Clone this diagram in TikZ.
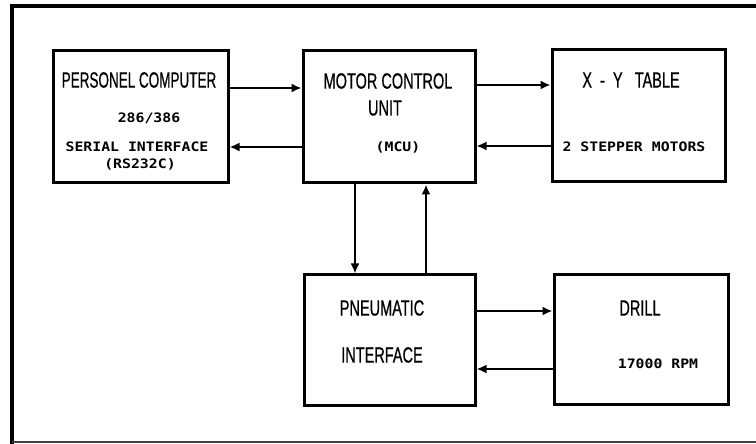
\documentclass[tikz,border=0pt]{standalone}
\usepackage{fontspec}
\newfontfamily\plotfont[FakeStretch=0.66, FakeBold=0.6]{Liberation Sans}
\newfontfamily\plotmono[FakeStretch=1.14]{DejaVu Sans Mono}
\usepackage{tikz}
\usetikzlibrary{arrows.meta, positioning, calc}

\begin{document}
\begin{tikzpicture}[
    x=0.5pt, y=-0.5pt,
    unit/.style={rectangle, draw=black, line width=1.5pt, inner sep=0},
    title/.style={font=\plotfont\fontsize{11}{13}\selectfont, inner sep=0},
    info/.style={font=\plotmono\fontsize{6.5}{7.5}\selectfont\bfseries, inner sep=0, align=center},
    flow/.style={-{Latex[length=5pt, width=4.5pt]}, line width=1pt},
    >=Latex
]
  \useasboundingbox (0,0) rectangle (756,444);

  % Frame
  \draw[line width=1.8pt] (756,6) -- (12,6) -- (12,444);
  \draw[line width=1.2pt, black!75] (12,442) -- (756,442);

  % Blocks
  \node[unit, minimum width=87.5pt, minimum height=66pt] (pc) at (140.5,117) {};
  \node[unit, minimum width=86pt, minimum height=66pt] (mcu) at (389,117) {};
  \node[unit, minimum width=86.5pt, minimum height=66pt] (xy) at (638.5,116) {};
  \node[unit, minimum width=85.5pt, minimum height=65pt] (pneu) at (389.5,340) {};
  \node[unit, minimum width=87pt, minimum height=64.5pt] (drill) at (641,339.5) {};

  % Texts
  \node[title] (pcT) at (139,80) {\scalebox{0.93}[1]{PERSONEL\ COMPUTER}};
  \node[info] (pcA) at (149,118) {286/386};
  \node[info] (pcB) at (137,147) {SERIAL INTERFACE};
  \node[info] (pcC) at (140,164) {(RS232C)};

  \node[title] (mcuT) at (388,81) {MOTOR CONTROL};
  \node[title] (mcuA) at (385,108) {UNIT};
  \node[info] (mcuB) at (398,147) {(MCU)};

  \node[title] (xyT) at (631,80) {X\ \ -\ \ Y\ \ \ TABLE};
  \node[info] (xyA) at (634,147) {2 STEPPER MOTORS};

  \node[title] (pneuT) at (382,308) {PNEUMATIC};
  \node[title] (pneuA) at (382,355) {INTERFACE};

  \node[title] (drillT) at (640,308) {DRILL};
  \node[info] (drillA) at (658,364) {17000 RPM};

  % Connections
  \draw[flow] (pc.east |- 0,88) -- (mcu.west |- 0,88);
  \draw[flow] (mcu.west |- 0,147) -- (pc.east |- 0,147);
  \draw[flow] (mcu.east |- 0,85) -- (xy.west |- 0,85);
  \draw[flow] (xy.west |- 0,146) -- (mcu.east |- 0,146);
  \draw[flow] (mcu.south -| 355,0) -- (pneu.north -| 355,0);
  \draw[flow] (pneu.north -| 426,0) -- (mcu.south -| 426,0);
  \draw[flow] (pneu.east |- 0,311) -- (drill.west |- 0,311);
  \draw[flow] (drill.west |- 0,369) -- (pneu.east |- 0,369);
\end{tikzpicture}
\end{document}
